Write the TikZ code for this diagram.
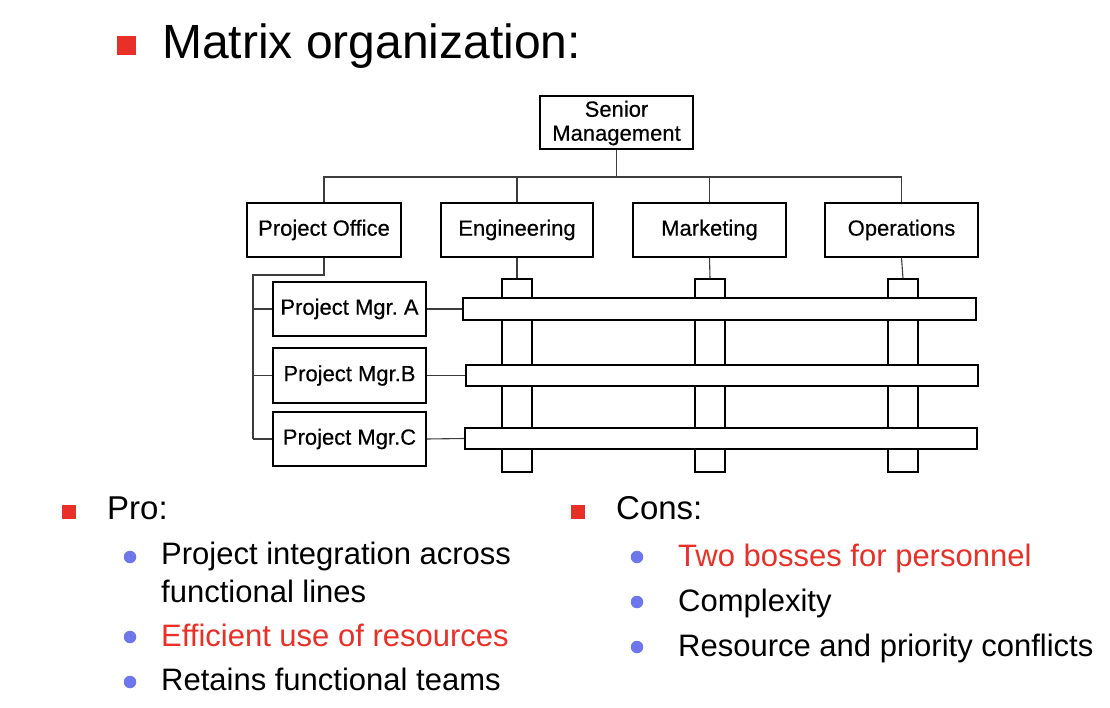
\documentclass[tikz,border=0pt]{standalone}
\usepackage{fontspec}
\setmainfont{Liberation Sans}
\newfontfamily\diagfont[FakeBold=0.4]{Liberation Sans}
\definecolor{bred}{RGB}{232,48,40}
\definecolor{bblue}{RGB}{110,118,235}
\definecolor{lgray}{RGB}{60,60,60}
\begin{document}
\begin{tikzpicture}[x=1pt,y=-1pt,
  box/.style={draw=black,line width=1.2pt,fill=white,rectangle,inner sep=0pt,font=\diagfont\fontsize{22}{24}\selectfont,align=center},
  bar/.style={draw=black,line width=1.2pt,fill=white,rectangle,inner sep=0pt},
  link/.style={draw=lgray,line width=1.1pt},
  sq/.style={fill=bred,rectangle,inner sep=0pt},
  dot/.style={fill=bblue,circle,inner sep=0pt,minimum size=12.5pt},
  lvlone/.style={anchor=base west,inner sep=0pt,font=\fontsize{33}{39}\selectfont},
  lvltwo/.style={anchor=base west,inner sep=0pt,font=\fontsize{31}{39}\selectfont}
]
\useasboundingbox (0,0) rectangle (1110,708);
% title
\node[sq,minimum width=19pt,minimum height=19pt] (tsq) at (126.5,45.5) {};
\node[anchor=base west,inner sep=0pt,font=\fontsize{48}{56}\selectfont] (title) at (162,59) {Matrix organization:};
% top boxes
\node[box,minimum width=153pt,minimum height=53pt] (sm) at (616.5,122.5) {\rule{0pt}{17pt}Senior\\Management};
\node[box,minimum width=154pt,minimum height=54pt] (po) at (324,230) {Project Office};
\node[box,minimum width=152pt,minimum height=54pt] (eng) at (517,230) {Engineering};
\node[box,minimum width=153pt,minimum height=54pt] (mkt) at (709.5,230) {Marketing};
\node[box,minimum width=153pt,minimum height=54pt] (ops) at (901.5,230) {Operations};
\coordinate (bus) at (616.5,177);
\draw[link] (sm.south) -- (bus);
\draw[link] (po.north) |- (bus) -| (ops.north);
\draw[link] (eng.north) -- (eng.north |- bus);
\draw[link] (mkt.north) -- (mkt.north |- bus);
% columns
\node[bar,minimum width=30pt,minimum height=193pt] (cole) at (517,375.5) {};
\node[bar,minimum width=30pt,minimum height=193pt] (colm) at (710,375.5) {};
\node[bar,minimum width=30pt,minimum height=193pt] (colo) at (903,375.5) {};
\draw[link] (eng.south) -- (cole.north);
\draw[link] (mkt.south) -- (colm.north);
\draw[link] (ops.south) -- (colo.north);
% project managers
\node[box,minimum width=153pt,minimum height=54pt] (pma) at (349.5,309) {Project Mgr.\ A};
\node[box,minimum width=153pt,minimum height=55pt] (pmb) at (349.5,375.5) {Project Mgr.B};
\node[box,minimum width=153pt,minimum height=54pt] (pmc) at (349.5,439) {Project Mgr.C};
\coordinate (spt) at (253,275);
\coordinate (spb) at (253,439);
\draw[link] (po.south) |- (spt) -- (spb);
\draw[link] (pma.west) -- (pma.west -| spt);
\draw[link] (pmb.west) -- (pmb.west -| spt);
\draw[link] (pmc.west) -- (spb);
% bars
\node[bar,minimum width=513pt,minimum height=22pt] (bara) at (719.5,309) {};
\node[bar,minimum width=512pt,minimum height=21pt] (barb) at (722,375.5) {};
\node[bar,minimum width=512pt,minimum height=21pt] (barc) at (721,438.5) {};
\draw[link] (pma.east) -- (bara.west);
\draw[link] (pmb.east) -- (barb.west);
\draw[link] (pmc.east) -- (barc.west);
% Pro
\node[sq,minimum width=14pt,minimum height=14pt] (psq) at (69,511.5) {};
\node[lvlone] (pro) at (107,519) {Pro:};
\node[dot] (pd1) at (130,557) {};
\node[lvltwo] (p1a) at (161,564) {Project integration across};
\node[lvltwo] (p1b) at (161,602) {functional lines};
\node[dot] (pd2) at (130,637) {};
\node[lvltwo,text=bred] (p2) at (161,646) {Efficient use of resources};
\node[dot] (pd3) at (130,682) {};
\node[lvltwo] (p3) at (161,690) {Retains functional teams};
% Cons
\node[sq,minimum width=14pt,minimum height=14pt] (csq) at (577.5,511.5) {};
\node[lvlone] (cons) at (616,519) {Cons:};
\node[dot] (cd1) at (637,557) {};
\node[lvltwo,text=bred] (c1) at (678,566) {Two bosses for personnel};
\node[dot] (cd2) at (637,602) {};
\node[lvltwo] (c2) at (678,611) {Complexity};
\node[dot] (cd3) at (637,647) {};
\node[lvltwo] (c3) at (678,656) {Resource and priority conflicts};
\end{tikzpicture}
\end{document}
